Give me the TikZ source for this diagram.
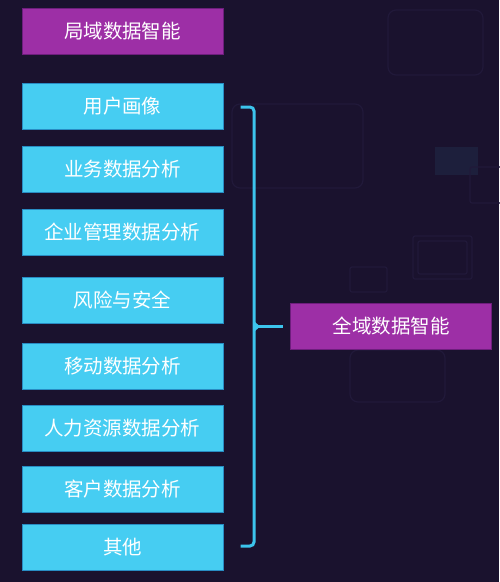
\documentclass[tikz,border=0pt]{standalone}
\usepackage{fontspec}
\setmainfont{Noto Sans CJK SC}
\usepackage{tikz}
\usetikzlibrary{positioning,calc}
\usepackage{xcolor}
\definecolor{bgnavy}{RGB}{26,18,46}
\definecolor{decoline}{RGB}{33,25,58}
\definecolor{decofill}{RGB}{29,31,60}
\definecolor{skyfill}{RGB}{70,205,242}
\definecolor{skyedge}{RGB}{40,140,195}
\definecolor{plumfill}{RGB}{157,47,166}
\definecolor{plumedge}{RGB}{110,30,125}
\definecolor{bracecol}{RGB}{60,196,236}

\begin{document}
\begin{tikzpicture}[
    x=1pt, y=-1pt,
    every node/.style={rectangle, minimum width=201pt, minimum height=46pt, inner sep=0pt, text=white, font=\fontsize{19.5}{22}\selectfont, line width=1pt},
    itembox/.style={fill=skyfill, draw=skyedge},
    areabox/.style={fill=plumfill, draw=plumedge},
    deco/.style={draw=decoline, line width=1.2pt, rounded corners=8pt}
]
    % background and faint decoration
    \fill [bgnavy] (0,0) rectangle (499,582);
    \useasboundingbox (0,0) rectangle (499,582);
    \draw [deco] (388,10) rectangle (483,75);
    \draw [deco] (232,104) rectangle (363,188);
    \fill [decofill] (435,147) rectangle (478,175);
    \draw [deco, rounded corners=2pt] (470,167) rectangle (505,203);
    \draw [deco, rounded corners=2pt] (413,236) rectangle (472,279);
    \draw [deco, rounded corners=2pt] (418,241) rectangle (467,274);
    \draw [deco, rounded corners=2pt] (350,267) rectangle (387,292);
    \draw [deco] (350,350) rectangle (445,402);

    % left column
    \node [areabox] (jubu) at (122.5,31) {局域数据智能};
    \node [itembox] (huaxiang) at (122.5,106) {用户画像};
    \node [itembox] (yewu) at (122.5,169) {业务数据分析};
    \node [itembox] (qiye) at (122.5,232.5) {企业管理数据分析};
    \node [itembox] (fengxian) at (122.5,300) {风险与安全};
    \node [itembox] (yidong) at (122.5,366) {移动数据分析};
    \node [itembox] (renli) at (122.5,428) {人力资源数据分析};
    \node [itembox] (kehu) at (122.5,489) {客户数据分析};
    \node [itembox] (qita) at (122.5,547) {其他};

    % right box
    \node [areabox] (quanyu) at (391,326.5) {全域数据智能};

    % bracket
    \coordinate (brtop) at ($(huaxiang.east)+(17,1)$);
    \coordinate (brbot) at ($(qita.east)+(17,-1)$);
    \coordinate (brmid) at (254,326.5);
    \draw [bracecol, line width=3pt, rounded corners=4pt]
        (brtop) -- (254,107) -- (254,546) -- (brbot);
    \draw [bracecol, line width=3pt] (brmid) -- ($(quanyu.west)+(-7,0)$);
    \fill [bracecol] (254,321) -- (260,326.5) -- (254,332) -- cycle;
\end{tikzpicture}
\end{document}
